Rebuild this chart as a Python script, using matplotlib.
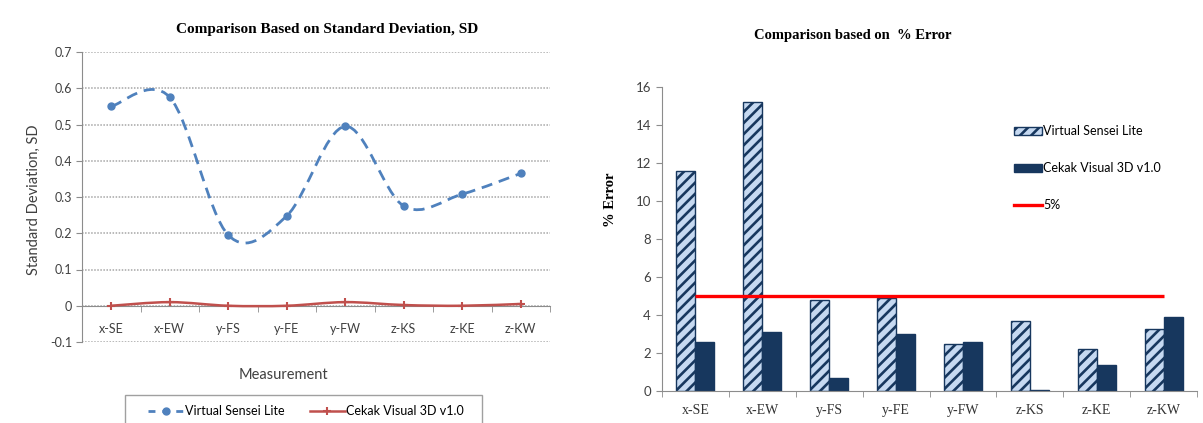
import matplotlib
matplotlib.use("Agg")
import matplotlib.pyplot as plt
from matplotlib.path import Path
from matplotlib.patches import PathPatch, Patch, Rectangle
from matplotlib.lines import Line2D

# ---- data -------------------------------------------------------------
measurements = ["x-SE", "x-EW", "y-FS", "y-FE", "y-FW", "z-KS", "z-KE", "z-KW"]

sd_virtual_sensei = [0.55, 0.575, 0.195, 0.248, 0.495, 0.275, 0.308, 0.365]
sd_cekak_visual = [0.0, 0.01, 0.0, 0.0, 0.01, 0.002, 0.0, 0.005]

err_virtual_sensei = [11.6, 15.2, 4.8, 4.9, 2.5, 3.7, 2.2, 3.25]
err_cekak_visual = [2.6, 3.1, 0.7, 3.0, 2.6, 0.05, 1.35, 3.9]
err_threshold = 5.0

sd_ticks = [-0.1, 0.0, 0.1, 0.2, 0.3, 0.4, 0.5, 0.6, 0.7]
sd_tick_labels = ["-0.1", "0", "0.1", "0.2", "0.3", "0.4", "0.5", "0.6", "0.7"]
err_ticks = [0, 2, 4, 6, 8, 10, 12, 14, 16]

series_names = ["Virtual Sensei Lite", "Cekak Visual 3D v1.0"]
threshold_name = "5%"

# ---- style ------------------------------------------------------------
SANS = ["Lato", "DejaVu Sans"]
SERIF = ["Liberation Serif", "DejaVu Serif"]
AXIS_GREY = "#8C8C8C"
BLUE = "#4F81BD"
RED = "#C0504D"
NAVY = "#17375E"
LIGHT_BLUE = "#C6D9F1"

plt.rcParams["hatch.linewidth"] = 1.9

W, H = 1203, 423
fig = plt.figure(figsize=(W / 100, H / 100), dpi=100)
fig.patch.set_facecolor("white")


def px_rect(left, top, right, bottom):
    return [left / W, 1 - bottom / H, (right - left) / W, (bottom - top) / H]


def smooth_path(xs, ys):
    """Smoothed line through the points (Catmull-Rom as cubic Bezier)."""
    n = len(xs)
    verts = [(xs[0], ys[0])]
    codes = [Path.MOVETO]
    for i in range(n - 1):
        a = i - 1 if i > 0 else i
        d = i + 2 if i + 2 < n else i + 1
        c1 = (xs[i] + (xs[i + 1] - xs[a]) / 6, ys[i] + (ys[i + 1] - ys[a]) / 6)
        c2 = (xs[i + 1] - (xs[d] - xs[i]) / 6, ys[i + 1] - (ys[d] - ys[i]) / 6)
        verts += [c1, c2, (xs[i + 1], ys[i + 1])]
        codes += [Path.CURVE4] * 3
    return Path(verts, codes)


# ---- left: standard deviation ----------------------------------------
ax1 = fig.add_axes(px_rect(82, 52, 550, 342))
x = list(range(len(measurements)))

ax1.set_xlim(-0.5, len(measurements) - 0.5)
ax1.set_ylim(-0.1, 0.7)
ax1.set_yticks(sd_ticks)
ax1.set_yticklabels(sd_tick_labels, family=SANS, fontsize=9, color="#404040")
ax1.yaxis.grid(True, color="#A6A6A6", linestyle=(0, (1, 1)), linewidth=1.1)
ax1.set_axisbelow(True)

ax1.spines["top"].set_visible(False)
ax1.spines["right"].set_visible(False)
ax1.spines["left"].set_color(AXIS_GREY)
ax1.spines["bottom"].set_color(AXIS_GREY)
ax1.spines["bottom"].set_position(("data", 0))

ax1.set_xticks(x)
ax1.set_xticklabels(measurements, family=SANS, fontsize=9, color="#404040")
ax1.set_xticks([i - 0.5 for i in range(len(measurements) + 1)], minor=True)
ax1.tick_params(axis="x", which="major", length=0, pad=12.5)
ax1.tick_params(axis="x", which="minor", length=4, color=AXIS_GREY, direction="out")
ax1.tick_params(axis="y", length=4, color=AXIS_GREY, pad=3)

ax1.add_patch(PathPatch(smooth_path(x, sd_virtual_sensei), fill=False,
                        edgecolor=BLUE, linewidth=2.0, linestyle=(0, (4, 2.5)),
                        capstyle="butt", zorder=3))
ax1.plot(x, sd_virtual_sensei, linestyle="none", marker="o", markersize=5,
         color=BLUE, zorder=4)
ax1.add_patch(PathPatch(smooth_path(x, sd_cekak_visual), fill=False,
                        edgecolor=RED, linewidth=1.8, zorder=3))
ax1.plot(x, sd_cekak_visual, linestyle="none", marker="+", markersize=6,
         markeredgewidth=1.5, color=RED, zorder=4)

fig.text(327 / W, 1 - 30 / H, "Comparison Based on Standard Deviation, SD",
         family=SERIF, fontweight="bold", fontsize=11, ha="center", va="center")
fig.text(34 / W, 1 - 200 / H, "Standard Deviation, SD", family=SANS,
         fontsize=10.5, rotation=90, ha="center", va="center", color="#404040")
fig.text(283 / W, 1 - 375 / H, "Measurement", family=SANS, fontsize=10.5,
         ha="center", va="center", color="#404040")

left_handles = [
    Line2D([], [], color=BLUE, linestyle=(0, (2.5, 2.5)), linewidth=2,
           marker="o", markersize=5),
    Line2D([], [], color=RED, linewidth=1.8, marker="+", markersize=6,
           markeredgewidth=1.5),
]
fig.legend(left_handles, series_names, loc="center left",
           bbox_to_anchor=(148 / W, 1 - 411 / H), ncol=2, frameon=False,
           prop={"family": SANS, "size": 9}, handlelength=2.8,
           handletextpad=0.15, columnspacing=2.0, borderpad=0,
           borderaxespad=0)
fig.add_artist(Rectangle((125 / W, -0.05), (482 - 125) / W, (423 - 395) / H + 0.05,
                         transform=fig.transFigure, fill=False,
                         edgecolor="#A0A0A0", linewidth=1.0))

# ---- right: percentage error -----------------------------------------
ax2 = fig.add_axes(px_rect(662, 87, 1197, 391))
bar_w = 0.285
ax2.bar([i - bar_w / 2 for i in x], err_virtual_sensei, width=bar_w,
        facecolor=LIGHT_BLUE, edgecolor=NAVY, hatch="///", linewidth=1.0,
        zorder=2)
ax2.bar([i + bar_w / 2 for i in x], err_cekak_visual, width=bar_w,
        color=NAVY, edgecolor=NAVY, linewidth=1.0, zorder=2)
ax2.plot([x[0], x[-1]], [err_threshold, err_threshold], color="#FF0000",
         linewidth=2.4, solid_capstyle="butt", zorder=3)

ax2.set_xlim(-0.5, len(measurements) - 0.5)
ax2.set_ylim(0, 16)
ax2.set_yticks(err_ticks)
ax2.set_yticklabels([str(t) for t in err_ticks], family=SANS, fontsize=9.5,
                    color="#404040")
ax2.set_xticks(x)
ax2.set_xticklabels(measurements, family=SERIF, fontsize=10, color="#333333")
ax2.set_xticks([i - 0.5 for i in range(len(measurements) + 1)], minor=True)
ax2.tick_params(axis="x", which="major", length=0, pad=9)
ax2.tick_params(axis="x", which="minor", length=4, color=AXIS_GREY, direction="out")
ax2.tick_params(axis="y", length=4, color=AXIS_GREY, pad=4)
ax2.spines["top"].set_visible(False)
ax2.spines["right"].set_visible(False)
ax2.spines["left"].set_color(AXIS_GREY)
ax2.spines["bottom"].set_color(AXIS_GREY)

fig.text(853 / W, 1 - 35 / H, "Comparison based on  % Error", family=SERIF,
         fontweight="bold", fontsize=10.5, ha="center", va="center")
fig.text(611 / W, 1 - 200 / H, "% Error", family=SERIF, fontweight="bold",
         fontsize=10.5, rotation=90, ha="center", va="center")

right_handles = [
    Patch(facecolor=LIGHT_BLUE, edgecolor=NAVY, hatch="///", linewidth=1.0),
    Patch(facecolor=NAVY, edgecolor=NAVY),
    Line2D([], [], color="#FF0000", linewidth=2.4),
]
ax2.legend(right_handles, series_names + [threshold_name], loc="upper left",
           bbox_to_anchor=(1014 / W, 1 - 125 / H), bbox_transform=fig.transFigure,
           frameon=False, prop={"family": SANS, "size": 9}, handlelength=2.2,
           handleheight=0.6, handletextpad=0.15, labelspacing=2.0,
           borderpad=0, borderaxespad=0)

fig.savefig("out.png", dpi=100, facecolor="white")
